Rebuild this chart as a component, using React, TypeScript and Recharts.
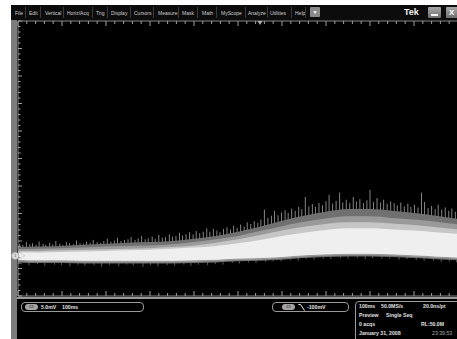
import React from 'react';
import { ComposedChart, Area, Line, XAxis, YAxis, ReferenceDot } from 'recharts';

// envelope sample times (ms) - 100 ms/div, 10 divisions
const envTime = [0, 50, 100, 150, 200, 250, 300, 350, 400, 450, 500, 550, 600, 650, 700, 750, 800, 850, 900, 950, 1000];
// persistence layers, in mV relative to the CH1 ground marker (5 mV/div)
const outerTop = [1.6, 1.7, 1.8, 2.0, 2.2, 2.4, 2.5, 2.7, 3.1, 3.6, 4.4, 5.3, 6.4, 7.3, 8.0, 8.5, 8.5, 8.2, 7.8, 7.3, 6.7];
const midTop = [1.2, 1.3, 1.4, 1.5, 1.7, 1.8, 1.9, 2.1, 2.5, 3.0, 3.6, 4.5, 5.4, 6.2, 6.8, 7.2, 7.2, 6.9, 6.6, 6.2, 5.7];
const lightTop = [0.9, 0.9, 1.0, 1.1, 1.2, 1.3, 1.4, 1.6, 1.9, 2.4, 3.0, 3.8, 4.6, 5.3, 5.8, 6.1, 6.1, 5.9, 5.6, 5.2, 4.8];
const coreTop = [0.6, 0.6, 0.7, 0.8, 0.9, 1.0, 1.1, 1.3, 1.5, 1.8, 2.3, 2.9, 3.6, 4.2, 4.7, 5.0, 5.0, 4.8, 4.6, 4.3, 4.0];
const coreLow = [-0.7, -0.8, -0.8, -0.9, -0.9, -0.9, -0.9, -0.9, -0.8, -0.7, -0.5, -0.4, -0.2, 0.1, 0.3, 0.4, 0.4, 0.3, 0.1, -0.1, -0.3];
const midLow = [-1.0, -1.1, -1.1, -1.2, -1.2, -1.2, -1.2, -1.2, -1.1, -1.0, -0.8, -0.7, -0.5, -0.2, 0.0, 0.1, 0.1, 0.0, -0.2, -0.4, -0.6];
const outerLow = [-1.2, -1.3, -1.3, -1.4, -1.4, -1.4, -1.4, -1.4, -1.3, -1.2, -1.0, -0.9, -0.7, -0.4, -0.2, -0.1, -0.1, -0.2, -0.4, -0.6, -0.8];

// noise spikes above the band (time ms, tip mV)
const hairTime = [4, 11, 19, 27, 33, 41, 48, 57, 63, 72, 79, 86, 95, 102, 110, 117, 126, 133, 141, 149, 156, 164, 171, 180, 188, 195, 203, 211, 219, 226, 234, 242, 250, 257, 266, 273, 281, 289, 296, 305, 312, 320, 328, 335, 344, 351, 359, 367, 374, 382, 390, 398, 405, 413, 421, 429, 436, 444, 452, 459, 467, 475, 483, 490, 498, 506, 514, 521, 529, 537, 545, 552, 560, 568, 576, 583, 591, 599, 607, 614, 622, 630, 638, 645, 653, 661, 669, 676, 684, 692, 700, 707, 715, 723, 731, 738, 746, 754, 762, 769, 777, 785, 793, 800, 808, 816, 824, 831, 839, 847, 855, 862, 870, 878, 886, 893, 901, 909, 917, 924, 932, 940, 948, 955, 963, 971, 979, 986, 994];
const hairTip = [2.2, 2.0, 2.5, 2.1, 2.3, 2.0, 2.6, 2.2, 2.0, 2.4, 2.1, 2.7, 2.2, 2.0, 2.5, 2.3, 2.1, 2.8, 2.3, 2.2, 2.6, 2.4, 2.9, 2.5, 2.4, 2.7, 3.1, 2.6, 2.8, 3.3, 2.7, 2.9, 3.0, 3.4, 2.9, 3.2, 3.6, 3.0, 3.2, 3.5, 3.1, 3.8, 3.3, 3.4, 3.9, 3.5, 3.6, 4.2, 3.7, 3.9, 4.3, 3.9, 4.5, 4.1, 4.4, 5.0, 4.4, 4.9, 4.6, 4.3, 4.9, 5.2, 4.8, 5.5, 5.1, 5.7, 5.3, 6.1, 5.8, 6.3, 6.0, 6.6, 8.4, 6.9, 7.3, 8.2, 7.4, 7.9, 8.3, 7.8, 8.6, 8.2, 8.9, 8.5, 10.7, 9.0, 9.4, 8.9, 9.6, 9.2, 9.9, 11.1, 9.5, 10.0, 11.5, 9.7, 10.2, 9.6, 10.7, 9.9, 10.3, 9.6, 10.1, 12.0, 9.8, 10.5, 9.7, 10.2, 9.5, 9.9, 9.6, 9.2, 9.7, 9.0, 9.5, 8.9, 9.3, 8.8, 11.5, 9.8, 8.7, 9.1, 8.5, 9.3, 8.4, 8.8, 8.2, 8.6, 8.0];

// short spikes below the band
const lowTime = [7, 25, 44, 61, 83, 99, 118, 137, 152, 173, 190, 208, 229, 247, 262, 284, 301, 318, 339, 356, 377, 393, 410, 431, 448, 466, 487, 503, 524, 541, 563, 580, 598, 619, 637, 655, 673, 694, 711, 733, 750, 771, 789, 806, 827, 845, 866, 884, 905, 923, 944, 962, 981, 997];
const lowTip = [-1.5, -1.7, -1.5, -1.8, -1.6, -1.7, -1.9, -1.6, -1.8, -1.7, -2.0, -1.7, -1.9, -1.6, -1.8, -2.0, -1.7, -1.9, -1.7, -1.8, -1.6, -1.8, -1.6, -1.7, -1.5, -1.6, -1.3, -1.4, -1.2, -1.3, -1.1, -1.0, -1.0, -0.8, -0.9, -0.6, -0.7, -0.5, -0.6, -0.4, -0.5, -0.4, -0.6, -0.4, -0.5, -0.5, -0.7, -0.6, -0.8, -0.9, -0.9, -1.1, -1.0, -1.2];

// graticule marks: 10 divisions x 5 minor marks (100 ms/div, 5 mV/div)
const timeTicks = Array.from({ length: 51 }, (_, i) => i * 20);
const voltTicks = Array.from({ length: 51 }, (_, i) => 42.7 - i);

const menuItems = ['File', 'Edit', 'Vertical', 'Horiz/Acq', 'Trig', 'Display', 'Cursors', 'Measure', 'Mask', 'Math', 'MyScope', 'Analyze', 'Utilities', 'Help'];
const menuLeft = [15, 29, 45, 67, 96, 111, 134, 158, 182, 202, 221, 248, 270, 295];
const menuSep = [25, 40, 63, 92, 107, 130, 153, 178, 197, 216, 245, 267, 291, 305];

const TICK = '#a0a0a0';

const envData = envTime.map((t, i) => ({
  t,
  outer: [outerLow[i], outerTop[i]],
  mid: [midLow[i], midTop[i]],
  light: [coreLow[i], lightTop[i]],
  core: [coreLow[i], coreTop[i]],
}));

const hairData = hairTime.flatMap((t, i) => [{ t, v: 0 }, { t, v: hairTip[i] }, { t, v: null }]);
const lowData = lowTime.flatMap((t, i) => [{ t, v: 0 }, { t, v: lowTip[i] }, { t, v: null }]);

const timeMajor = (v: number) => Math.round(v) % 100 === 0;
const voltMajor = (v: number) => Math.round(42.7 - v) % 5 === 0;

const TopTick = (p: any) => (
  <line x1={p.x} x2={p.x} y1={p.y} y2={p.y + (timeMajor(p.payload.value) ? 5 : 3)} stroke={TICK} />
);
const BottomTick = (p: any) => (
  <line x1={p.x} x2={p.x} y1={p.y} y2={p.y - (timeMajor(p.payload.value) ? 5 : 3)} stroke={TICK} />
);
const LeftTick = (p: any) => (
  <line x1={p.x} x2={p.x + (voltMajor(p.payload.value) ? 4 : 2.5)} y1={p.y} y2={p.y} stroke={TICK} />
);

const ChannelMarker = (p: any) => (
  <g>
    <circle cx={p.cx - 2.8} cy={p.cy} r={3.7} fill="#dcdcdc" stroke="#8a8a8a" strokeWidth={0.5} />
    <text x={p.cx - 2.8} y={p.cy + 1.3} fontSize={3.6} textAnchor="middle" fill="#333" fontFamily="Liberation Sans">1</text>
    <path d={`M${p.cx + 2},${p.cy - 3} L${p.cx + 7},${p.cy} L${p.cx + 2},${p.cy + 3}`} fill="none" stroke="#cfcfcf" strokeWidth={0.8} />
  </g>
);

const TriggerMarker = (p: any) => (
  <path d={`M${p.cx - 2.5},${p.cy} L${p.cx + 2.5},${p.cy} L${p.cx},${p.cy + 4} Z`} fill="#b0b0b0" />
);

const Scope = () => (
  <ComposedChart width={458} height={277} margin={{ top: 0, right: 0, bottom: 0, left: 17 }}
    style={{ position: 'absolute', left: 0, top: 20 }}>
    <XAxis xAxisId="x" orientation="top" type="number" dataKey="t" domain={[0, 1000]} allowDataOverflow
      ticks={timeTicks} interval={0} height={1} tickSize={0} tickMargin={0} tickLine={false}
      axisLine={{ stroke: '#8a8a8a' }} tick={TopTick} />
    <XAxis xAxisId="xb" orientation="bottom" type="number" dataKey="t" domain={[0, 1000]} allowDataOverflow
      ticks={timeTicks} interval={0} height={1} tickSize={0} tickMargin={0} tickLine={false}
      axisLine={{ stroke: '#8a8a8a' }} tick={BottomTick} />
    <YAxis yAxisId="y" orientation="left" type="number" domain={[-7.3, 42.7]} allowDataOverflow
      ticks={voltTicks} interval={0} width={1} tickSize={0} tickMargin={0} tickLine={false}
      axisLine={{ stroke: '#8a8a8a' }} tick={LeftTick} />

    <Line xAxisId="x" yAxisId="y" data={hairData} dataKey="v" type="linear" stroke="#858585" strokeWidth={1}
      dot={false} activeDot={false} connectNulls={false} isAnimationActive={false} zIndex={50} />
    <Line xAxisId="xb" yAxisId="y" data={lowData} dataKey="v" type="linear" stroke="#5a5a5a" strokeWidth={1}
      dot={false} activeDot={false} connectNulls={false} isAnimationActive={false} zIndex={50} />

    <Area xAxisId="x" yAxisId="y" data={envData} dataKey="outer" type="monotone" stroke="none" fill="#707070" fillOpacity={1} isAnimationActive={false} />
    <Area xAxisId="x" yAxisId="y" data={envData} dataKey="mid" type="monotone" stroke="none" fill="#9a9a9a" fillOpacity={1} isAnimationActive={false} />
    <Area xAxisId="x" yAxisId="y" data={envData} dataKey="light" type="monotone" stroke="none" fill="#c6c6c6" fillOpacity={1} isAnimationActive={false} />
    <Area xAxisId="x" yAxisId="y" data={envData} dataKey="core" type="monotone" stroke="none" fill="#efefef" fillOpacity={1} isAnimationActive={false} />

    <ReferenceDot xAxisId="x" yAxisId="y" x={0} y={0} ifOverflow="visible" shape={ChannelMarker} />
    <ReferenceDot xAxisId="x" yAxisId="y" x={550} y={42.7} ifOverflow="visible" shape={TriggerMarker} />
  </ComposedChart>
);

const txt: React.CSSProperties = { position: 'absolute', fontSize: 5.2, fontWeight: 700, color: '#e2e2e2', whiteSpace: 'nowrap', lineHeight: '6px' };

const Pill = ({ left }: { left: number }) => (
  <div style={{ position: 'absolute', left, top: 304, width: 13, height: 6, borderRadius: 3, background: '#a4a4a4',
    fontSize: 3.6, fontWeight: 700, color: '#333', textAlign: 'center', lineHeight: '6px' }}>C1</div>
);

export default function App() {
  return (
    <div style={{ position: 'absolute', left: 0, top: 0, width: 457, height: 339, overflow: 'hidden', background: '#fff',
      fontFamily: '"Liberation Sans", Arial, sans-serif' }}>
      {/* menu bar */}
      <div style={{ position: 'absolute', left: 11, top: 5, width: 446, height: 15, background: '#0c0c0c' }} />
      {menuItems.map((m, i) => (
        <span key={m} style={{ position: 'absolute', left: menuLeft[i], top: 10, fontSize: 5, color: '#cfcfcf', lineHeight: '6px', whiteSpace: 'nowrap' }}>{m}</span>
      ))}
      {menuSep.map((x) => (
        <div key={x} style={{ position: 'absolute', left: x, top: 7, width: 1, height: 11, background: '#3a3a3a' }} />
      ))}
      <div style={{ position: 'absolute', left: 310, top: 7, width: 10, height: 10, background: '#8a8a8a', borderRadius: 1,
        fontSize: 5, color: '#fff', textAlign: 'center', lineHeight: '10px' }}>▼</div>
      <span style={{ position: 'absolute', left: 404, top: 7, fontSize: 9, fontWeight: 700, color: '#f2f2f2', lineHeight: '10px' }}>Tek</span>
      <div style={{ position: 'absolute', left: 428, top: 7, width: 13, height: 11, borderRadius: 1, background: 'linear-gradient(#a8a8a8, #6e6e6e)' }}>
        <div style={{ position: 'absolute', left: 3, top: 7, width: 7, height: 2, background: '#f4f4f4' }} />
      </div>
      <div style={{ position: 'absolute', left: 446, top: 7, width: 13, height: 11, borderRadius: 1, background: 'linear-gradient(#a8a8a8, #6e6e6e)',
        fontSize: 8, fontWeight: 700, color: '#fff', lineHeight: '11px', paddingLeft: 3, boxSizing: 'border-box' }}>X</div>

      {/* window frame and screen */}
      <div style={{ position: 'absolute', left: 11, top: 20, width: 6, height: 319, background: '#7c7c7c' }} />
      <div style={{ position: 'absolute', left: 17, top: 20, width: 440, height: 319, background: '#000' }} />
      <div style={{ position: 'absolute', left: 17, top: 297, width: 440, height: 2, background: '#9a9a9a' }} />

      <Scope />

      {/* readouts */}
      <div style={{ position: 'absolute', left: 21, top: 302, width: 123, height: 10, border: '1px solid #9a9a9a', borderRadius: 4, boxSizing: 'border-box' }} />
      <Pill left={25} />
      <span style={{ ...txt, left: 41, top: 304 }}>5.0mV</span>
      <span style={{ ...txt, left: 62, top: 304 }}>100ms</span>

      <div style={{ position: 'absolute', left: 272, top: 302, width: 77, height: 10, border: '1px solid #9a9a9a', borderRadius: 4, boxSizing: 'border-box' }} />
      <Pill left={282} />
      <svg style={{ position: 'absolute', left: 298, top: 303 }} width={9} height={9}>
        <path d="M0.5,1.5 L2.5,1.5 L6.5,7.5" fill="none" stroke="#eee" strokeWidth={1} />
      </svg>
      <span style={{ ...txt, left: 307, top: 304 }}>-100mV</span>

      <div style={{ position: 'absolute', left: 355, top: 301, width: 120, height: 50, border: '1px solid #9a9a9a', borderRadius: 4, boxSizing: 'border-box' }} />
      <span style={{ ...txt, left: 359, top: 303 }}>100ms</span>
      <span style={{ ...txt, left: 381, top: 303 }}>50.0MS/s</span>
      <span style={{ ...txt, left: 423, top: 303 }}>20.0ns/pt</span>
      <span style={{ ...txt, left: 359, top: 312 }}>Preview</span>
      <span style={{ ...txt, left: 386, top: 312 }}>Single Seq</span>
      <span style={{ ...txt, left: 359, top: 321 }}>0 acqs</span>
      <span style={{ ...txt, left: 421, top: 321 }}>RL:50.0M</span>
      <span style={{ ...txt, left: 359, top: 330 }}>January 31, 2008</span>
      <span style={{ ...txt, left: 432, top: 330, fontWeight: 400, color: '#a8a8a8' }}>23:39:53</span>
    </div>
  );
}
